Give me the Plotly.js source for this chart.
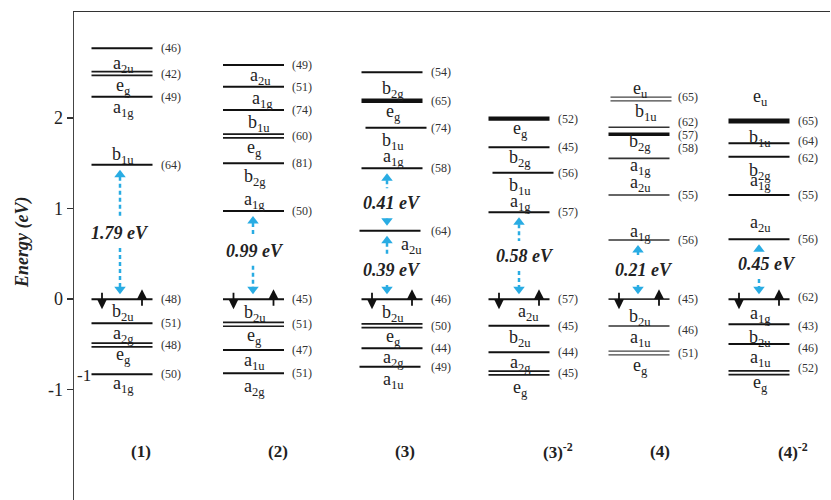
<!DOCTYPE html>
<html><head><meta charset="utf-8">
<script src="https://cdn.plot.ly/plotly-3.0.1.min.js"></script>
<style>html,body{margin:0;padding:0;background:#fff}</style>
</head><body><div id="chart" style="width:831px;height:500px"></div>
<script>
// ================= DATA =================
const columnNames = ['(1)', '(2)', '(3)', '(3)<sup>-2</sup>', '(4)', '(4)<sup>-2</sup>'];

// column (1)
const energies1 = [2.772, 2.493, 2.237, 1.486, 0, -0.267, -0.507, -0.830];
const counts1   = [46, 42, 49, 64, 48, 51, 48, 50];
const degen1    = [1, 2, 1, 1, 1, 1, 2, 1];
const symbols1  = ['a2u', 'eg', 'a1g', 'b1u', 'b2u', 'a2g', 'eg', 'a1g'];
const symbolE1  = [2.598, 2.355, 2.112, 1.582, -0.142, -0.387, -0.627, -0.947];

// column (2)
const energies2 = [2.587, 2.348, 2.090, 1.803, 1.501, 0.974, 0, -0.278, -0.561, -0.818];
const counts2   = [49, 51, 74, 60, 81, 50, 45, 51, 47, 51];
const degen2    = [1, 1, 1, 2, 1, 1, 1, 2, 1, 1];
const symbols2  = ['a2u', 'a1g', 'b1u', 'eg', 'b2g', 'a1g', 'b2u', 'eg', 'a1u', 'a2g'];
const symbolE2  = [2.458, 2.201, 1.936, 1.667, 1.346, 1.088, -0.156, -0.415, -0.691, -0.975];

// column (3)
const energies3 = [2.507, 2.193, 1.894, 1.446, 0.756, 0, -0.293, -0.543, -0.746];
const counts3   = [54, 65, 74, 58, 64, 46, 50, 44, 49];
const degen3    = [1, 2, 1, 1, 1, 1, 2, 1, 1];
const symbols3  = ['b2g', 'eg', 'b1u', 'a1g', 'a2u', 'b2u', 'eg', 'a2g', 'a1u'];
const symbolE3  = [2.318, 2.065, 1.740, 1.567, 0.598, -0.156, -0.422, -0.661, -0.901];

// column (3)^-2
const energies3m = [1.994, 1.678, 1.397, 0.960, 0, -0.293, -0.587, -0.816];
const counts3m   = [52, 45, 56, 57, 57, 45, 44, 45];
const degen3m    = [2, 1, 1, 1, 1, 1, 1, 2];
const symbols3m  = ['eg', 'b2g', 'b1u', 'a1g', 'a2u', 'b2u', 'a2g', 'eg'];
const symbolE3m  = [1.880, 1.556, 1.243, 1.070, -0.150, -0.433, -0.709, -0.985];

// column (4)
const energies4 = [2.212, 1.899, 1.822, 1.556, 1.151, 0.654, 0, -0.297, -0.595];
const counts4   = [65, 62, 57, 58, 55, 56, 45, 46, 51];
const degen4    = [2, 1, 1, 1, 1, 1, 1, 1, 2];
const countE4   = [2.232, 1.961, 1.814, 1.667, 1.151, 0.654, 0, -0.341, -0.590];
const symbols4  = ['eu', 'b1u', 'b2g', 'a1g', 'a2u', 'a1g', 'b2u', 'a1u', 'eg'];
const symbolE4  = [2.318, 2.065, 1.733, 1.464, 1.280, 0.738, -0.200, -0.440, -0.746];

// column (4)^-2
const energies4m = [1.968, 1.722, 1.574, 1.151, 0.661, 0, -0.278, -0.496, -0.813];
const counts4m   = [65, 64, 62, 55, 56, 62, 43, 46, 52];
const degen4m    = [2, 1, 1, 1, 1, 1, 1, 1, 2];
const countE4m   = [1.968, 1.747, 1.556, 1.151, 0.661, 0.02, -0.296, -0.543, -0.764];
const symbols4m  = ['eu', 'b1u', 'b2g', 'a1g', 'a2u', 'a1g', 'b2u', 'a1u', 'eg'];
const symbolE4m  = [2.230, 1.773, 1.408, 1.298, 0.838, -0.164, -0.433, -0.661, -0.930];

// HOMO-LUMO style gaps
const gapColumn = [0, 1, 2, 2, 3, 4, 5];
const gapLow    = [0, 0, 0, 0.756, 0, 0, 0];
const gapHigh   = [1.486, 0.974, 0.756, 1.446, 0.960, 0.654, 0.661];
const gapText   = ['1.79 eV', '0.99 eV', '0.39 eV', '0.41 eV', '0.58 eV', '0.21 eV', '0.45 eV'];
const gapTextE  = [0.731, 0.535, 0.322, 1.059, 0.477, 0.322, 0.388];

// ================= LAYOUT CONSTANTS =================
const cols = [
  {E: energies1, N: counts1, D: degen1, S: symbols1, SE: symbolE1},
  {E: energies2, N: counts2, D: degen2, S: symbols2, SE: symbolE2},
  {E: energies3, N: counts3, D: degen3, S: symbols3, SE: symbolE3},
  {E: energies3m, N: counts3m, D: degen3m, S: symbols3m, SE: symbolE3m},
  {E: energies4, N: counts4, D: degen4, S: symbols4, SE: symbolE4, NE: countE4},
  {E: energies4m, N: counts4m, D: degen4m, S: symbols4m, SE: symbolE4m, NE: countE4m}
];
const colX = [122, 253.5, 392, 519, 639, 759];
const halfW = 30.5;
const pxPerEv = 90.5;
const serif = 'Liberation Serif, Times New Roman, serif';
const cyan = '#29ace3';
// per level line style overrides: key "col-idx"
const thick = {'2-1': 4.5, '3-0': 4.2, '5-0': 5, '4-2': 3.5};
const thin = {'4-0': 1.4, '4-1': 1.5, '4-3': 1.6, '4-4': 1.6, '4-5': 1.6, '4-6': 1.6, '4-7': 1.6, '4-8': 1.5};
const lineShift = {'2-2': 4, '2-4': -2, '2-8': -2, '3-2': 4, '4-0': 2};
const symShift = {'2-4': 18, '3-4': 8, '1-0': 6, '1-1': 8, '1-2': 4, '4-1': 6};
const gapArrowX = [120, 253, 387, 387, 519, 638, 759];
const gapTextX  = [120, 255, 392, 392, 525, 644, 767];
const colLabelX = [141, 278, 405, 558, 660, 793];
const colLabelE = -1.68;

// ================= BUILD =================
const groups = {};
function addSeg(key, width, color, x0, x1, y) {
  if (!groups[key]) groups[key] = {x: [], y: [], width, color};
  groups[key].x.push(x0, x1, null);
  groups[key].y.push(y, y, null);
}
const annotations = [];
const subFmt = s => s[0] + '<sub>' + s.slice(1) + '</sub>';

cols.forEach((col, c) => {
  col.E.forEach((e, i) => {
    const k = c + '-' + i;
    const sh = lineShift[k] || 0;
    const x0 = colX[c] - halfW + sh, x1 = colX[c] + halfW + sh;
    const w = thin[k] || 2;
    const color = thin[k] ? '#333' : '#111';
    if (thick[k]) {
      addSeg('t' + thick[k], thick[k], '#111', x0, x1, e);
    } else if (col.D[i] === 2) {
      const off = 0.021;
      const dc = color === '#111' ? '#1a1a1a' : '#444';
      addSeg('d' + w, w * 0.85, dc, x0, x1, e + off);
      addSeg('d' + w, w * 0.85, dc, x0, x1, e - off);
    } else {
      addSeg('s' + w + color, w, color, x0, x1, e);
    }
    annotations.push({
      x: colX[c] + halfW + 6, y: col.NE ? col.NE[i] : e, xref: 'x', yref: 'y',
      text: '(' + col.N[i] + ')', showarrow: false, xanchor: 'left', yanchor: 'middle',
      font: {family: serif, size: 12, color: '#333'}
    });
  });
  col.S.forEach((s, i) => {
    annotations.push({
      x: colX[c] + 1 + (symShift[c + '-' + i] || 0), y: col.SE[i], xref: 'x', yref: 'y',
      text: subFmt(s), showarrow: false, xanchor: 'center', yanchor: 'middle',
      font: {family: serif, size: 18, color: '#222'}
    });
  });
  // spin arrows on the occupied frontier level (E = 0)
  const homo = col.E.find(e => e === 0);
  annotations.push({
    x: colX[c] - 20, y: homo - 10 / pxPerEv, xref: 'x', yref: 'y', text: '',
    showarrow: true, arrowhead: 2, arrowsize: 1.1, arrowwidth: 1.8, arrowcolor: '#111',
    ax: 0, ay: -18, standoff: 0
  });
  annotations.push({
    x: colX[c] + 20, y: homo + 10 / pxPerEv, xref: 'x', yref: 'y', text: '',
    showarrow: true, arrowhead: 2, arrowsize: 1.1, arrowwidth: 1.8, arrowcolor: '#111',
    ax: 0, ay: 18, standoff: 0
  });
  annotations.push({
    x: colLabelX[c], y: colLabelE, xref: 'x', yref: 'y', text: '<b>' + columnNames[c] + '</b>',
    showarrow: false, xanchor: 'center', font: {family: serif, size: 17, color: '#222'}
  });
});

const traces = Object.values(groups).map(g => ({
  type: 'scatter', mode: 'lines', x: g.x, y: g.y, hoverinfo: 'skip',
  line: {color: g.color, width: g.width}, showlegend: false
}));

// gap arrows
const dashX = [], dashY = [], upX = [], upY = [], dnX = [], dnY = [];
gapColumn.forEach((c, g) => {
  const ax = gapArrowX[g];
  const hi = gapHigh[g], lo = gapLow[g], te = gapTextE[g];
  upX.push(ax); upY.push(hi - 10 / pxPerEv);
  dnX.push(ax); dnY.push(lo + 10 / pxPerEv);
  const a1 = hi - 12 / pxPerEv, b1 = te + 15 / pxPerEv;
  if (a1 > b1) { dashX.push(ax, ax, null); dashY.push(a1, b1, null); }
  const a2 = te - 15 / pxPerEv, b2 = lo + 12 / pxPerEv;
  if (a2 > b2) { dashX.push(ax, ax, null); dashY.push(a2, b2, null); }
  annotations.push({
    x: gapTextX[g], y: te, xref: 'x', yref: 'y', text: '<b><i>' + gapText[g] + '</i></b>',
    showarrow: false, xanchor: 'center', font: {family: serif, size: 18, color: '#222'}
  });
});
traces.push({type: 'scatter', mode: 'lines', x: dashX, y: dashY, hoverinfo: 'skip', showlegend: false,
  line: {color: cyan, width: 2.5, dash: '4px,3px'}});
traces.push({type: 'scatter', mode: 'markers', x: upX, y: upY, hoverinfo: 'skip', showlegend: false,
  marker: {symbol: 'triangle-up', size: 10, color: cyan}});
traces.push({type: 'scatter', mode: 'markers', x: dnX, y: dnY, hoverinfo: 'skip', showlegend: false,
  marker: {symbol: 'triangle-down', size: 10, color: cyan}});

// stray "-1" text beside the lowest level of column (1)
annotations.push({x: 93, y: -0.838, xref: 'x', yref: 'y', text: '-1', showarrow: false,
  xanchor: 'right', font: {family: serif, size: 17, color: '#222'}});

// axis title
annotations.push({x: -0.069, xref: 'paper', xanchor: 'center', y: 0.63, yref: 'y', yanchor: 'middle',
  text: '<b><i>Energy (eV)</i></b>',
  textangle: -90, showarrow: false, font: {family: serif, size: 18, color: '#222'}});

const layout = {
  width: 831, height: 500,
  margin: {l: 74, r: 1, t: 12, b: 0, pad: 0},
  paper_bgcolor: '#fff', plot_bgcolor: '#fff',
  showlegend: false,
  xaxis: {range: [74, 830], side: 'top', showline: true, linecolor: '#333', linewidth: 1.5,
    showticklabels: false, ticks: '', showgrid: false, zeroline: false, fixedrange: true},
  yaxis: {range: [-2.219, 3.173], tickvals: [-1, 0, 1, 2], ticktext: ['-1', '0', '1', '2'],
    ticks: 'outside', ticklen: 6, tickwidth: 1.5, tickcolor: '#333',
    showline: true, linecolor: '#444', linewidth: 1.5, showgrid: false, zeroline: false,
    tickfont: {family: serif, size: 18, color: '#222'}, fixedrange: true},
  annotations
};
Plotly.newPlot('chart', traces, layout, {staticPlot: true});
</script></body></html>
